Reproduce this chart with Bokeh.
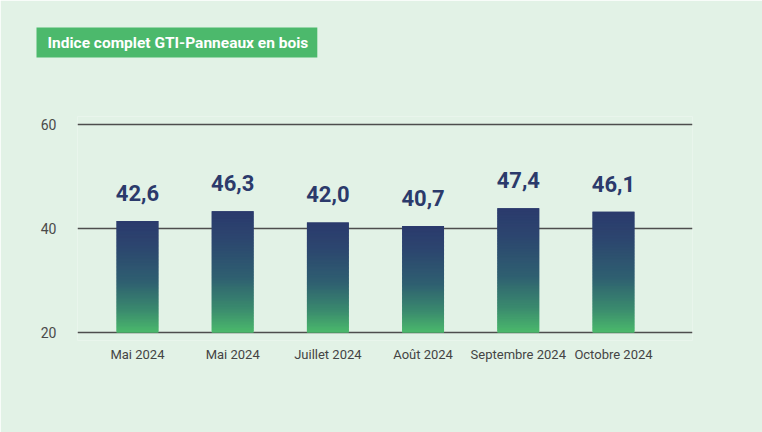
import numpy as np
from bokeh.plotting import figure
from bokeh.models import Range1d, LinearAxis, FixedTicker, Title, Grid
from bokeh.core.properties import value
from bokeh.embed import file_html
from bokeh.resources import INLINE

# ---- data ----
categories = ["Mai 2024", "Mai 2024", "Juillet 2024", "Août 2024", "Septembre 2024", "Octobre 2024"]
values = [42.6, 46.3, 42.0, 40.7, 47.4, 46.1]
value_labels = ["42,6", "46,3", "42,0", "40,7", "47,4", "46,1"]
axis_ticks = [20, 40, 60]
title_text = "Indice complet GTI-Panneaux en bois"

# ---- style ----
BG = "#e2f2e6"
GREEN = "#4cb96c"
NAVY = "#2b3a6b"
GRID = "#4d4d4d"
FONT = "Roboto"
stops_t = [0.0, 0.25, 0.55, 0.8, 1.0]          # 0 = bar top, 1 = bar bottom
stops_c = ["#2b3a6d", "#2c476f", "#2f6070", "#3a8a6e", "#4bb96b"]

def hex2rgb(h):
    h = h.lstrip("#")
    return np.array([int(h[i:i + 2], 16) for i in (0, 2, 4)], dtype=float)

stop_rgb = np.array([hex2rgb(c) for c in stops_c])

def grad_color(t):
    r = np.interp(t, stops_t, stop_rgb[:, 0])
    g = np.interp(t, stops_t, stop_rgb[:, 1])
    b = np.interp(t, stops_t, stop_rgb[:, 2])
    return "#%02x%02x%02x" % (int(round(r)), int(round(g)), int(round(b)))

x = np.arange(len(categories))

# bar range and the displayed scale range share the same pixel mapping
BAR_LO, BAR_HI = -3.0, 82.4
k_scale = 40 / 79.4
p = figure(width=762, height=432, output_backend="svg", toolbar_location=None,
           x_range=Range1d(-0.63, len(categories) - 1 + 0.83),
           y_range=Range1d(BAR_LO, BAR_HI),
           min_border_left=77, min_border_right=70, min_border_top=116, min_border_bottom=92)
p.background_fill_color = BG
p.border_fill_color = BG
p.outline_line_color = None
p.xgrid.visible = False
p.ygrid.visible = False
p.title.visible = False

p.extra_y_ranges = {"scale": Range1d(20 + BAR_LO * k_scale, 20 + BAR_HI * k_scale)}
p.yaxis.visible = False
yax = LinearAxis(y_range_name="scale", ticker=FixedTicker(ticks=axis_ticks))
yax.axis_line_color = None
yax.major_tick_line_color = None
yax.minor_tick_line_color = None
yax.major_label_standoff = 15
yax.major_label_text_font = FONT
yax.major_label_text_font_size = "14px"
yax.major_label_text_color = "#4a4a4a"
p.add_layout(yax, "left")

grid = Grid(dimension=1, ticker=yax.ticker, y_range_name="scale",
            grid_line_color=GRID, grid_line_width=1.3)
p.add_layout(grid)

# x axis
p.xaxis.ticker = FixedTicker(ticks=list(x))
p.xaxis.major_label_overrides = {int(i): c for i, c in zip(x, categories)}
p.xaxis.axis_line_color = None
p.xaxis.major_tick_line_color = None
p.xaxis.minor_tick_line_color = None
p.xaxis.major_label_standoff = 0
p.xaxis.major_label_text_font = FONT
p.xaxis.major_label_text_font_size = "13px"
p.xaxis.major_label_text_color = "#444444"

# gradient bars
N = 80
lefts, rights, bottoms, tops, colors = [], [], [], [], []
for xi, v in zip(x, values):
    for k in range(N):
        lefts.append(xi - 0.22)
        rights.append(xi + 0.22)
        bottoms.append(v * k / N)
        tops.append(min(v, v * (k + 2) / N))
        colors.append(grad_color(1 - (k + 0.5) / N))
p.quad(left=lefts, right=rights, bottom=bottoms, top=tops,
       fill_color=colors, line_color=None)

# value labels
p.text(x=x, y=values, text=value_labels, text_align="center", text_baseline="bottom",
       y_offset=-20, text_font=value(FONT), text_font_style="bold",
       text_font_size="22px", text_color=NAVY)

# spacer between frame and title box
spacer = Title(text=" ", text_font_size="1px", standoff=56, text_color=BG)
p.add_layout(spacer, "above")

# title box
title = Title(text=title_text, align="left", offset=-41,
              text_font=FONT, text_font_style="bold", text_font_size="15.5px",
              text_color="white", background_fill_color=GREEN,
              padding=dict(left=11, right=9, top=6, bottom=6), standoff=0)
p.add_layout(title, "above")

open("out.html", "w").write(file_html(p, INLINE))
